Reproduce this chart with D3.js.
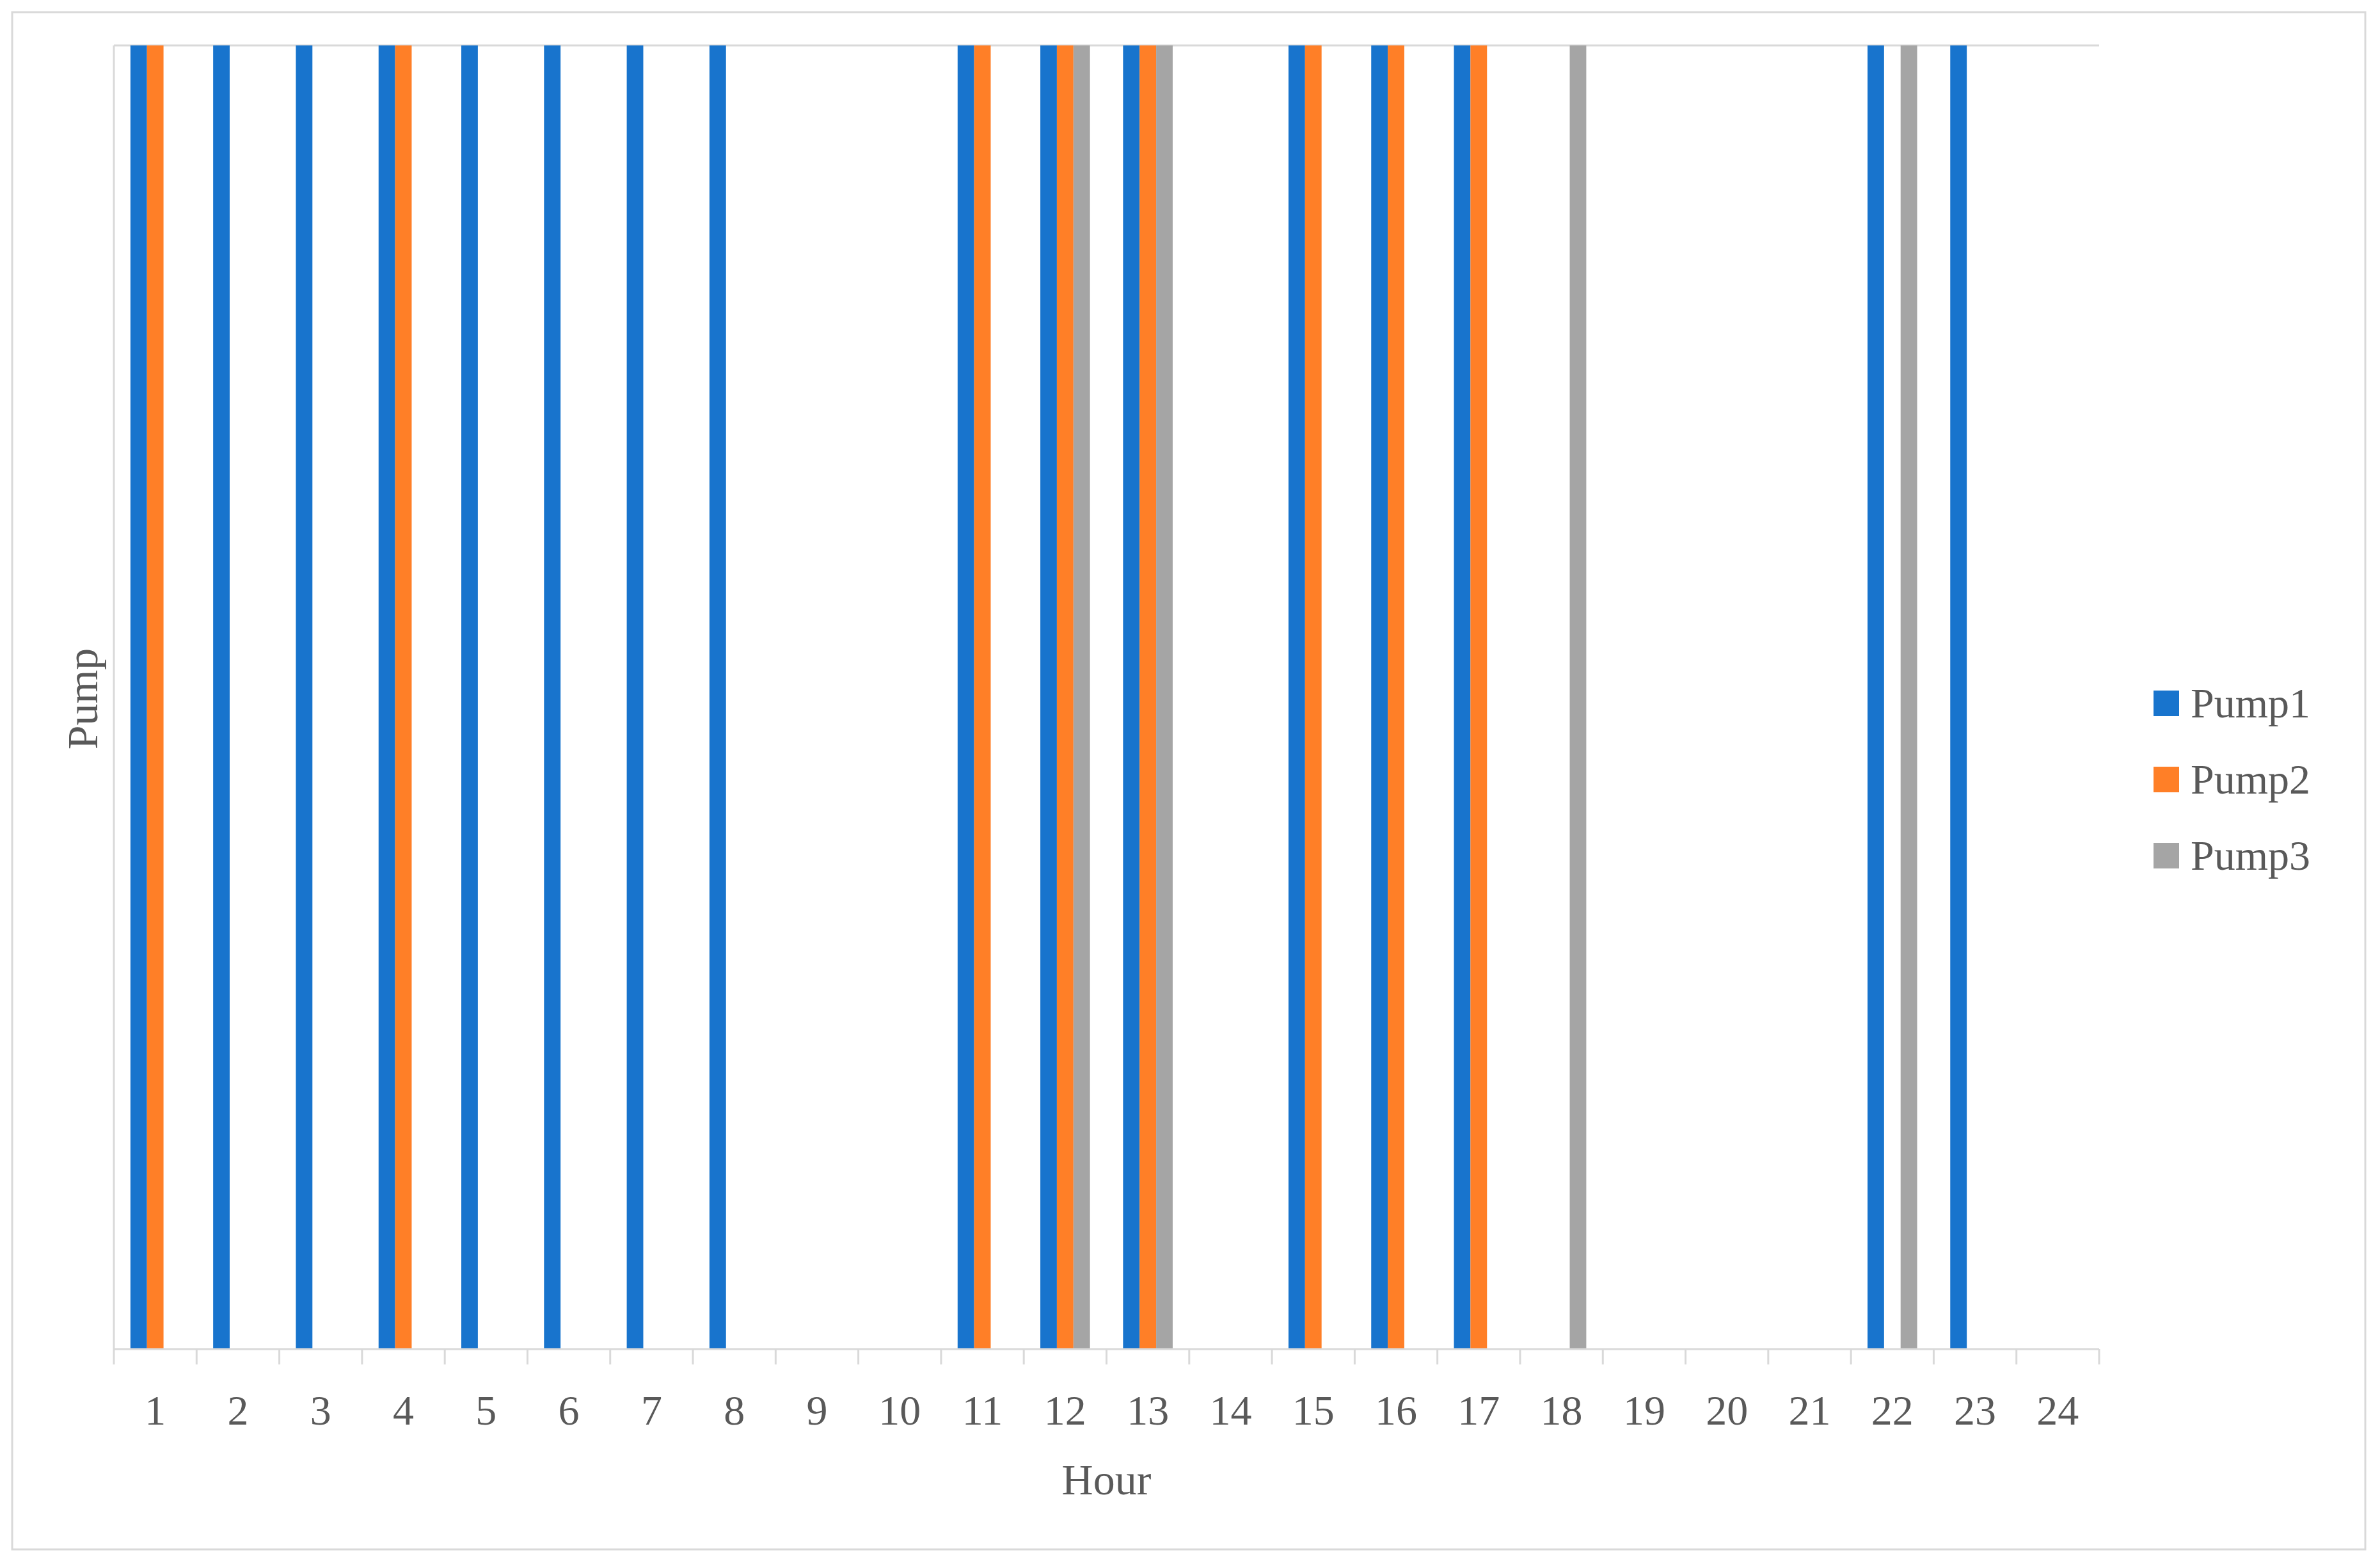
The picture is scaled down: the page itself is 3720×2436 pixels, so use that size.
<!DOCTYPE html>
<html><head><meta charset="utf-8">
<script src="https://cdn.jsdelivr.net/npm/d3@7"></script>
<style>body{margin:0;background:#fff}svg{display:block}</style></head>
<body><svg id="c" width="3720" height="2436"></svg>
<script>
const hours = d3.range(1,25).map(String);
const seriesNames = ["Pump1","Pump2","Pump3"];
const pump1 = [1,1,1,1,1,1,1,1,0,0,1,1,1,0,1,1,1,0,0,0,0,1,1,0];
const pump2 = [1,0,0,1,0,0,0,0,0,0,1,1,1,0,1,1,1,0,0,0,0,0,0,0];
const pump3 = [0,0,0,0,0,0,0,0,0,0,0,1,1,0,0,0,0,1,0,0,0,1,0,0];
const colors = ["#1874CD","#FF7F27","#A5A5A5"];
const series = [pump1,pump2,pump3];

const svg = d3.select("#c");
const font = "'Liberation Serif','Times New Roman',serif";
svg.append("rect").attr("x",19).attr("y",19).attr("width",3678).attr("height",2402)
  .attr("fill","#fff").attr("stroke","#d9d9d9").attr("stroke-width",3);
const L=178,R=3281,T=71,B=2108;
const x = d3.scaleBand().domain(hours).range([L,R]).paddingInner(0).paddingOuter(0);
const xs = d3.scaleBand().domain(seriesNames).range([0,x.bandwidth()]).paddingOuter(1/3*0.2/0.2*0.5).paddingInner(0);
// group occupies middle 60%
const gx = d3.scaleBand().domain(seriesNames).range([x.bandwidth()*0.2, x.bandwidth()*0.8]);
const y = d3.scaleLinear().domain([0,1]).range([B,T]);

svg.append("line").attr("x1",L).attr("x2",R).attr("y1",T).attr("y2",T).attr("stroke","#d9d9d9").attr("stroke-width",3);
svg.append("line").attr("x1",L).attr("x2",L).attr("y1",T).attr("y2",B).attr("stroke","#d9d9d9").attr("stroke-width",3);

series.forEach((vals,si)=>{
  svg.append("g").selectAll("rect").data(vals.map((v,i)=>({h:hours[i],v})).filter(d=>d.v>0))
   .join("rect").attr("x",d=>x(d.h)+gx(seriesNames[si])).attr("width",gx.bandwidth())
   .attr("y",d=>y(d.v)).attr("height",d=>y(0)-y(d.v)).attr("fill",colors[si]);
});

const ax = svg.append("g").attr("transform",`translate(0,${B})`);
ax.append("line").attr("x1",L).attr("x2",R).attr("stroke","#d9d9d9").attr("stroke-width",3);
ax.selectAll("line.t").data(d3.range(25)).join("line").attr("class","t")
  .attr("x1",i=>L+i*x.step()).attr("x2",i=>L+i*x.step()).attr("y1",0).attr("y2",24)
  .attr("stroke","#d9d9d9").attr("stroke-width",3);
ax.selectAll("text").data(hours).join("text").attr("x",d=>x(d)+x.bandwidth()/2).attr("y",118)
  .attr("text-anchor","middle").attr("font-family",font).attr("font-size",66).attr("fill","#595959").text(d=>d);

svg.append("text").attr("x",(L+R)/2).attr("y",2335).attr("text-anchor","middle")
  .attr("font-family",font).attr("font-size",68).attr("fill","#595959").text("Hour");
svg.append("text").attr("transform","translate(152,1092) rotate(-90)").attr("text-anchor","middle")
  .attr("font-family",font).attr("font-size",68).attr("fill","#595959").text("Pump");

const lg = svg.append("g");
seriesNames.forEach((n,i)=>{
  const yy = 1099 + i*119;
  lg.append("rect").attr("x",3366).attr("y",yy-20).attr("width",40).attr("height",40).attr("fill",colors[i]);
  lg.append("text").attr("x",3424).attr("y",yy+22).attr("font-family",font).attr("font-size",66)
    .attr("fill","#595959").text(n);
});
</script></body></html>
